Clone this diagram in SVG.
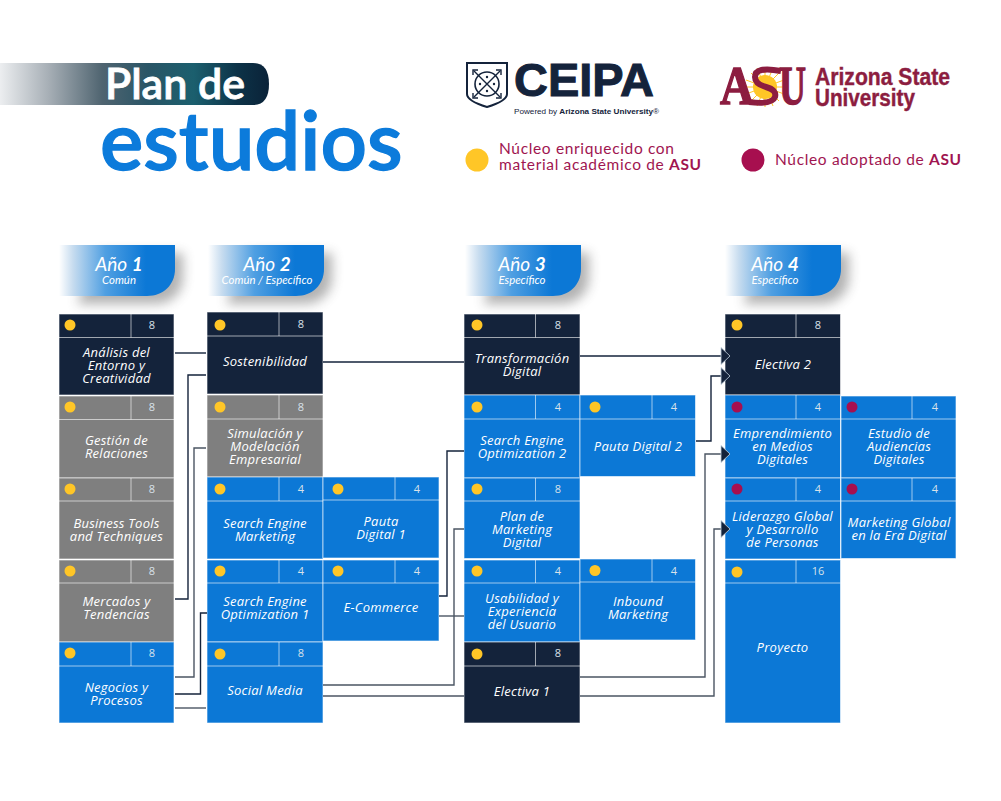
<svg xmlns="http://www.w3.org/2000/svg" width="1001" height="801" viewBox="0 0 1001 801">
<style>
text{font-family:"Open Sans","DejaVu Sans",sans-serif}
.navy{fill:#14233b}.gray{fill:#7f7f7f}.blue{fill:#0c78d6}
.bd{stroke:#fff;stroke-opacity:.6;stroke-width:1}
.gd{fill:#ffc627}.md{fill:#a70f4f}
.n{font-size:11px;fill:#d9e2ea;text-anchor:middle}
.t{font-size:13px;font-style:italic;fill:#fff;text-anchor:middle;letter-spacing:.25px}
.yr{font-family:"Lato",sans-serif;font-size:19px;font-style:italic;fill:#fff;text-anchor:middle}
.yr tspan{font-weight:700}
.ys{font-family:"Lato",sans-serif;font-size:11.4px;font-style:italic;fill:#fff;text-anchor:middle}
.lg{font-family:"Lato",sans-serif;font-size:15.5px;fill:#a01550;letter-spacing:.65px}
.lg tspan{font-weight:700}
.c{fill:none;stroke-width:1.4}
.c1{stroke:#14233b}.c2{stroke:#4b5563}
.ar{fill:#14233b;stroke:#c3d2de;stroke-width:.8}
.asu{font-family:"Liberation Sans",Arial,sans-serif;font-weight:700;fill:#8c1d40}
.ceipa{fill:#14233b;font-family:"Liberation Sans",Arial,sans-serif}
</style>
<defs>
<linearGradient id="bar" x1="0" x2="1" y1="0" y2="0">
<stop offset="0" stop-color="#eceef0"/><stop offset=".18" stop-color="#a7afb6"/><stop offset=".38" stop-color="#4f6470"/><stop offset=".55" stop-color="#2a5566"/><stop offset=".72" stop-color="#1b5f6e"/><stop offset=".88" stop-color="#0d3348"/><stop offset="1" stop-color="#0a2238"/>
</linearGradient>
<linearGradient id="tab" x1="0" x2="1" y1="0" y2="0">
<stop offset="0" stop-color="#ffffff"/><stop offset=".12" stop-color="#c7dcef"/><stop offset=".4" stop-color="#4f9fe2"/><stop offset=".75" stop-color="#0c78d6"/><stop offset="1" stop-color="#0c78d6"/>
</linearGradient>
<filter id="bl" x="-30%" y="-40%" width="160%" height="180%"><feGaussianBlur stdDeviation="6"/></filter>
<path id="tabshape" d="M0 0H116V24C116 40 104 51 88 51H0Z"/>
<path id="shadowshape" d="M30 0H116V24C116 40 104 51 88 51H10Z"/>
</defs>

<g id="title">
<path d="M0 63H253Q269 63 269 84Q269 105 253 105H0Z" fill="url(#bar)"/>
<text x="105" y="99" font-size="43" font-weight="600" style="font-family:Lato,sans-serif" fill="#fff" stroke="#fff" stroke-width=".8">Plan de</text>
<text x="100" y="170" font-size="81.5" font-weight="600" style="font-family:Lato,sans-serif" fill="#0c7bdb" stroke="#0c7bdb" stroke-width="1.300">estudios</text>
</g>

<g id="logo-ceipa">
<path d="M467 63H507V94Q507 101 487 107Q467 101 467 94Z" fill="none" stroke="#14233b" stroke-width="2"/>
<circle cx="487" cy="84" r="12" fill="none" stroke="#14233b" stroke-width="1.6"/>
<path d="M474 71L500 97M500 71L474 97" stroke="#14233b" stroke-width="1.4"/>
<path d="M473 75V70H478M501 75V70H496M473 93V98H478M501 93V98H496" fill="none" stroke="#14233b" stroke-width="1.4"/>
<circle cx="487" cy="77" r="1.200" fill="#14233b"/><circle cx="494" cy="84" r="1.200" fill="#14233b"/><circle cx="480" cy="84" r="1.200" fill="#14233b"/><circle cx="487" cy="91" r="1.200" fill="#14233b"/>
<text class="ceipa" x="514" y="96" font-size="46" font-weight="700" textLength="140" lengthAdjust="spacingAndGlyphs" stroke="#14233b" stroke-width="1">CEIPA</text>
<text class="ceipa" x="514" y="114" font-size="8" textLength="145" lengthAdjust="spacingAndGlyphs">Powered by <tspan font-weight="700">Arizona State University</tspan>®</text>
</g>

<g id="logo-asu">
<circle cx="765" cy="87" r="12" fill="#ffc627"/>
<path d="M765 67V107M746 87H784M751 73L779 101M779 73L751 101M757 68L773 106M773 68L757 106M746 80L784 94M784 80L746 94" stroke="#ffc627" stroke-width="1"/>
<path d="M781 71Q755 66 755 77Q755 84 766 87Q777 90 775 97Q772 105 749 102" fill="none" stroke="#8c1d40" stroke-width="6"/>
<text x="720" y="104" font-size="54" font-weight="700" textLength="34" lengthAdjust="spacingAndGlyphs" style="font-family:'Liberation Serif',serif" fill="#8c1d40" stroke="#8c1d40" stroke-width="1.4">A</text>
<text x="779" y="104" font-size="54" font-weight="700" textLength="27" lengthAdjust="spacingAndGlyphs" style="font-family:'Liberation Serif',serif" fill="#8c1d40" stroke="#8c1d40" stroke-width="1.4">U</text>
<text class="asu" x="815" y="85" font-size="23" textLength="135" lengthAdjust="spacingAndGlyphs" stroke="#8c1d40" stroke-width=".4">Arizona State</text>
<text class="asu" x="815" y="106" font-size="23" textLength="100" lengthAdjust="spacingAndGlyphs" stroke="#8c1d40" stroke-width=".4">University</text>
</g>

<g id="legend">
<circle class="gd" cx="477" cy="160" r="11.5"/>
<text class="lg" x="499" y="154">Núcleo enriquecido con</text>
<text class="lg" x="499" y="170">material académico de <tspan>ASU</tspan></text>
<circle class="md" cx="753" cy="160" r="11.5"/>
<text class="lg" x="775" y="165">Núcleo adoptado de <tspan>ASU</tspan></text>
</g>

<g id="year-1"><use href="#shadowshape" transform="translate(67,253)" fill="#555" opacity=".45" filter="url(#bl)"/><use href="#tabshape" transform="translate(59,245)" fill="url(#tab)"/><text class="yr" x="119" y="271">Año <tspan>1</tspan></text><text class="ys" x="119" y="284">Común</text></g>
<g id="year-2"><use href="#shadowshape" transform="translate(216,253)" fill="#555" opacity=".45" filter="url(#bl)"/><use href="#tabshape" transform="translate(208,245)" fill="url(#tab)"/><text class="yr" x="267" y="271">Año <tspan>2</tspan></text><text class="ys" x="267" y="284">Común / Específico</text></g>
<g id="year-3"><use href="#shadowshape" transform="translate(473,253)" fill="#555" opacity=".45" filter="url(#bl)"/><use href="#tabshape" transform="translate(465,245)" fill="url(#tab)"/><text class="yr" x="522" y="271">Año <tspan>3</tspan></text><text class="ys" x="522" y="284">Específico</text></g>
<g id="year-4"><use href="#shadowshape" transform="translate(733,253)" fill="#555" opacity=".45" filter="url(#bl)"/><use href="#tabshape" transform="translate(725,245)" fill="url(#tab)"/><text class="yr" x="775" y="271">Año <tspan>4</tspan></text><text class="ys" x="775" y="284">Específico</text></g>

<g id="nodes">
<g id="analisis"><rect class="navy bd" x="59" y="314" width="115" height="81"/><path class="bd" d="M59 337.5H174M131 314V337.5"/><circle class="gd" cx="70" cy="325" r="5.5"/><text class="n" x="152" y="329">8</text><text class="t" x="116.500" y="357">Análisis del</text><text class="t" x="116.500" y="370">Entorno y</text><text class="t" x="116.500" y="383">Creatividad</text></g>
<g id="gestion"><rect class="gray bd" x="59" y="396" width="115" height="82"/><path class="bd" d="M59 419.500H174M131 396V419.500"/><circle class="gd" cx="70" cy="407" r="5.500"/><text class="n" x="152" y="411">8</text><text class="t" x="116.500" y="445">Gestión de</text><text class="t" x="116.500" y="458">Relaciones</text></g>
<g id="business"><rect class="gray bd" x="59" y="478" width="115" height="81"/><path class="bd" d="M59 501H174M131 478V501"/><circle class="gd" cx="70" cy="489" r="5.500"/><text class="n" x="152" y="493">8</text><text class="t" x="116.500" y="528">Business Tools</text><text class="t" x="116.500" y="541">and Techniques</text></g>
<g id="mercados"><rect class="gray bd" x="59" y="560" width="115" height="82"/><path class="bd" d="M59 583H174M131 560V583"/><circle class="gd" cx="70" cy="571" r="5.500"/><text class="n" x="152" y="575">8</text><text class="t" x="116.500" y="606">Mercados y</text><text class="t" x="116.500" y="619">Tendencias</text></g>
<g id="negocios"><rect class="blue bd" x="59" y="642" width="115" height="81"/><path class="bd" d="M59 666H174M131 642V666"/><circle class="gd" cx="70" cy="653" r="5.500"/><text class="n" x="152" y="657">8</text><text class="t" x="116.500" y="692">Negocios y</text><text class="t" x="116.500" y="705">Procesos</text></g>

<g id="sostenibilidad"><rect class="navy bd" x="207" y="312" width="116" height="82"/><path class="bd" d="M207 336H323M279 312V336"/><circle class="gd" cx="220" cy="325" r="5.500"/><text class="n" x="301" y="328">8</text><text class="t" x="265" y="366">Sostenibilidad</text></g>
<g id="simulacion"><rect class="gray bd" x="207" y="395" width="116" height="82"/><path class="bd" d="M207 419H323M279 395V419"/><circle class="gd" cx="220" cy="407" r="5.500"/><text class="n" x="301" y="411">8</text><text class="t" x="265" y="438">Simulación y</text><text class="t" x="265" y="451">Modelación</text><text class="t" x="265" y="464">Empresarial</text></g>
<g id="sem"><rect class="blue bd" x="207" y="477" width="116" height="82"/><path class="bd" d="M207 501H323M279 477V501"/><circle class="gd" cx="220" cy="489" r="5.500"/><text class="n" x="301" y="493">4</text><text class="t" x="265" y="528">Search Engine</text><text class="t" x="265" y="541">Marketing</text></g>
<g id="pauta1"><rect class="blue bd" x="323" y="477" width="116" height="81"/><path class="bd" d="M323 500H439M395 477V500"/><circle class="gd" cx="338" cy="489" r="5.500"/><text class="n" x="417" y="493">4</text><text class="t" x="381" y="526">Pauta</text><text class="t" x="381" y="539">Digital 1</text></g>
<g id="seo1"><rect class="blue bd" x="207" y="560" width="116" height="82"/><path class="bd" d="M207 583H323M279 560V583"/><circle class="gd" cx="220" cy="571" r="5.500"/><text class="n" x="301" y="575">4</text><text class="t" x="265" y="606">Search Engine</text><text class="t" x="265" y="619">Optimization 1</text></g>
<g id="ecommerce"><rect class="blue bd" x="323" y="560" width="116" height="81"/><path class="bd" d="M323 583H439M395 560V583"/><circle class="gd" cx="338" cy="571" r="5.500"/><text class="n" x="417" y="575">4</text><text class="t" x="381" y="612">E-Commerce</text></g>
<g id="social"><rect class="blue bd" x="207" y="642" width="116" height="81"/><path class="bd" d="M207 666H323M279 642V666"/><circle class="gd" cx="220" cy="654" r="5.500"/><text class="n" x="301" y="657">8</text><text class="t" x="265" y="695">Social Media</text></g>

<g id="transformacion"><rect class="navy bd" x="464" y="314" width="116" height="81"/><path class="bd" d="M464 337.500H580M535.500 314V337.500"/><circle class="gd" cx="477" cy="325" r="5.500"/><text class="n" x="558" y="329">8</text><text class="t" x="522" y="363">Transformación</text><text class="t" x="522" y="376">Digital</text></g>
<g id="seo2"><rect class="blue bd" x="464" y="395" width="116" height="83"/><path class="bd" d="M464 419H580M535.500 395V419"/><circle class="gd" cx="477" cy="407" r="5.500"/><text class="n" x="558" y="411">4</text><text class="t" x="522" y="445">Search Engine</text><text class="t" x="522" y="458">Optimization 2</text></g>
<g id="pauta2"><rect class="blue bd" x="580" y="395" width="115.500" height="81.500"/><path class="bd" d="M580 419H695.500M652 395V419"/><circle class="gd" cx="595" cy="407" r="5.500"/><text class="n" x="674" y="411">4</text><text class="t" x="638" y="451">Pauta Digital 2</text></g>
<g id="plan"><rect class="blue bd" x="464" y="478" width="116" height="80.500"/><path class="bd" d="M464 501H580M535.500 478V501"/><circle class="gd" cx="477" cy="489" r="5.500"/><text class="n" x="558" y="493">8</text><text class="t" x="522" y="521">Plan de</text><text class="t" x="522" y="534">Marketing</text><text class="t" x="522" y="547">Digital</text></g>
<g id="usabilidad"><rect class="blue bd" x="464" y="560" width="116" height="82"/><path class="bd" d="M464 583H580M535.500 560V583"/><circle class="gd" cx="477" cy="571" r="5.500"/><text class="n" x="558" y="575">4</text><text class="t" x="522" y="603">Usabilidad y</text><text class="t" x="522" y="616">Experiencia</text><text class="t" x="522" y="629">del Usuario</text></g>
<g id="inbound"><rect class="blue bd" x="580" y="559" width="115.500" height="81"/><path class="bd" d="M580 582H695.500M652 559V582"/><circle class="gd" cx="595" cy="570.500" r="5.500"/><text class="n" x="674" y="574.500">4</text><text class="t" x="638" y="606">Inbound</text><text class="t" x="638" y="619">Marketing</text></g>
<g id="electiva1"><rect class="navy bd" x="464" y="642" width="116" height="81"/><path class="bd" d="M464 666H580M535.500 642V666"/><circle class="gd" cx="477" cy="654" r="5.500"/><text class="n" x="558" y="657">8</text><text class="t" x="522" y="696">Electiva 1</text></g>

<g id="electiva2"><rect class="navy bd" x="725" y="314" width="115.500" height="81"/><path class="bd" d="M725 337.500H840.500M796 314V337.500"/><circle class="gd" cx="737" cy="325" r="5.500"/><text class="n" x="818" y="329">8</text><text class="t" x="783" y="369">Electiva 2</text></g>
<g id="emprendimiento"><rect class="blue bd" x="725" y="395" width="115.500" height="83"/><path class="bd" d="M725 419H840.500M796 395V419"/><circle class="md" cx="737" cy="407" r="5.500"/><text class="n" x="818" y="411">4</text><text class="t" x="782.500" y="438">Emprendimiento</text><text class="t" x="782.500" y="451">en Medios</text><text class="t" x="782.500" y="464">Digitales</text></g>
<g id="audiencias"><rect class="blue bd" x="841" y="396" width="115" height="82"/><path class="bd" d="M841 419H956M912 396V419"/><circle class="md" cx="852" cy="407" r="5.500"/><text class="n" x="935" y="411">4</text><text class="t" x="899" y="438">Estudio de</text><text class="t" x="899" y="451">Audiencias</text><text class="t" x="899" y="464">Digitales</text></g>
<g id="liderazgo"><rect class="blue bd" x="725" y="478" width="115.500" height="81"/><path class="bd" d="M725 501H840.500M796 478V501"/><circle class="md" cx="737" cy="489" r="5.500"/><text class="n" x="818" y="493">4</text><text class="t" x="782.500" y="521">Liderazgo Global</text><text class="t" x="782.500" y="534">y Desarrollo</text><text class="t" x="782.500" y="547">de Personas</text></g>
<g id="marketing-global"><rect class="blue bd" x="841" y="478" width="115" height="80.500"/><path class="bd" d="M841 501H956M912 478V501"/><circle class="md" cx="852" cy="489" r="5.500"/><text class="n" x="935" y="493">4</text><text class="t" x="899" y="527">Marketing Global</text><text class="t" x="899" y="540">en la Era Digital</text></g>
<g id="proyecto"><rect class="blue bd" x="725" y="560" width="115.500" height="163"/><path class="bd" d="M725 583H840.500M796 560V583"/><circle class="gd" cx="737" cy="572" r="5.500"/><text class="n" x="818" y="575">16</text><text class="t" x="782.500" y="652">Proyecto</text></g>
</g>

<g id="connectors">
<path class="c c1" d="M175 353H206"/>
<path class="c c1" d="M175 599H188V375H206"/>
<path class="c c2" d="M175 677H194V448H206"/>
<path class="c c1" d="M175 694H200.500V613H207"/>
<path class="c c2" d="M175 708H206"/>
<path class="c c1" d="M323 362H464"/>
<path class="c c1" d="M439 596H447V451H464"/>
<path class="c c2" d="M439 616H464"/>
<path class="c c2" d="M323 685H454V529H464"/>
<path class="c c2" d="M323 696H464"/>
<path class="c c1" d="M580 356H722"/>
<path class="c c1" d="M696 441H711V376H722"/>
<path class="c c2" d="M580 677H705V454H722"/>
<path class="c c2" d="M580 696H714V529H722"/>
<path class="ar" d="M721 347.500L730 356L721 364.500Z"/>
<path class="ar" d="M721 367.500L730 376L721 384.500Z"/>
<path class="ar" d="M721 445.500L730 454L721 462.500Z"/>
<path class="ar" d="M721 520.500L730 529L721 537.500Z"/>
</g>
</svg>
